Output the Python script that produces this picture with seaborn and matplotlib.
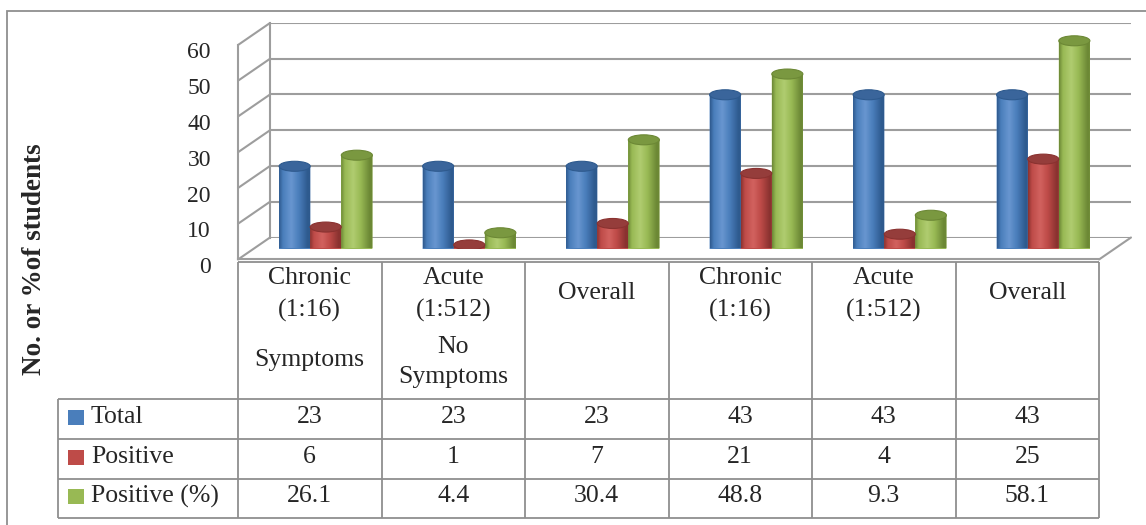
import numpy as np
import pandas as pd
import matplotlib
matplotlib.use("Agg")
import matplotlib.pyplot as plt
import seaborn as sns
from matplotlib.patches import Ellipse, Rectangle, Polygon, ConnectionPatch
from matplotlib.colors import LinearSegmentedColormap

# ---- data ---------------------------------------------------------------
header_main = [["Chronic", "(1:16)"], ["Acute", "(1:512)"], ["Overall"],
               ["Chronic", "(1:16)"], ["Acute", "(1:512)"], ["Overall"]]
header_note = [["Symptoms"], ["No", "Symptoms"], [], [], [], []]
series_names = ["Total", "Positive", "Positive (%)"]
total = [23, 23, 23, 43, 43, 43]
positive = [6, 1, 7, 21, 4, 25]
positive_pct = [26.1, 4.4, 30.4, 48.8, 9.3, 58.1]
y_ticks = [0, 10, 20, 30, 40, 50, 60]
y_label = "No. or %of students"

# ---- style --------------------------------------------------------------
sns.set_style("white")
plt.rcParams["font.family"] = ["Liberation Serif", "DejaVu Serif"]

W, H = 1146, 525
GRID = "#9d9d9d"
LINE = "#8f8f8f"
FS_TICK = 17
FS_TAB = 18.5

body = {"Total": "#4A7EBB", "Positive": "#BE4B48", "Positive (%)": "#98B954"}
dark = {"Total": "#2E5A8E", "Positive": "#8A3230", "Positive (%)": "#6C8835"}
light = {"Total": "#6896D0", "Positive": "#D2625F", "Positive (%)": "#B0CC70"}
top_col = {"Total": "#3A659B", "Positive": "#953D3B", "Positive (%)": "#7A9840"}

fig = plt.figure(figsize=(W / 100, H / 100), dpi=100)
fig.patch.set_facecolor("white")


def px_axes(left, top, width, height, z=0):
    a = fig.add_axes([left / W, 1 - (top + height) / H, width / W, height / H], zorder=z)
    a.patch.set_alpha(0)
    return a


PLANE_W, PLANE_H = 861, 214.5
DX, DY = 16, 11          # depth offset between front / middle / back planes
MID_L, MID_T = 254, 34

ax_back = px_axes(MID_L + DX, MID_T - DY, PLANE_W, PLANE_H, 0)
ax_front = px_axes(MID_L - DX, MID_T + DY, PLANE_W, PLANE_H, 1)
ax_lbl = px_axes(MID_L - DX, MID_T + DY + 5.5, PLANE_W, PLANE_H, 1)
ax_mid = px_axes(MID_L, MID_T, PLANE_W, PLANE_H, 3)
ax_tab = px_axes(MID_L - DX, 262, PLANE_W, 256, 2)

for a in (ax_back, ax_front, ax_lbl, ax_mid, ax_tab):
    a.set_xlim(-0.5, 5.5)
    a.set_xticks([])
    for s in a.spines.values():
        s.set_visible(False)
for a in (ax_back, ax_front, ax_lbl, ax_mid):
    a.set_ylim(0, 60)

# back wall with gridlines
ax_back.set_yticks(y_ticks)
ax_back.tick_params(axis="y", length=0, labelleft=False)
ax_back.grid(axis="y", color=GRID, lw=1.5)
ax_back.spines["left"].set_visible(True)
ax_back.spines["left"].set_color(GRID)
ax_back.spines["left"].set_linewidth(1.5)

# front edges
ax_front.set_yticks([])
ax_front.spines["left"].set_visible(True)
ax_front.spines["bottom"].set_visible(True)
for s in ("left", "bottom"):
    ax_front.spines[s].set_color(GRID)
    ax_front.spines[s].set_linewidth(1.5)

# side wall and floor diagonals
for v in y_ticks:
    fig.add_artist(ConnectionPatch(xyA=(-0.5, v), coordsA=ax_front.transData,
                                   xyB=(-0.5, v), coordsB=ax_back.transData,
                                   color=GRID, lw=1.5))
fig.add_artist(ConnectionPatch(xyA=(5.5, 0), coordsA=ax_front.transData,
                               xyB=(5.5, 0), coordsB=ax_back.transData,
                               color=GRID, lw=1.5))

# value axis labels
ax_lbl.set_yticks(y_ticks)
ax_lbl.set_yticklabels([str(t) for t in y_ticks], fontsize=FS_TICK)
ax_lbl.tick_params(axis="y", length=0, pad=19.5)

# ---- cylinders ----------------------------------------------------------
df = pd.DataFrame({
    "col": list(range(6)) * 3,
    "series": np.repeat(series_names, 6),
    "value": total + positive + positive_pct,
})
sns.barplot(data=df, x="col", y="value", hue="series", hue_order=series_names,
            palette=[body[s] for s in series_names], width=0.65, errorbar=None,
            saturation=1, legend=False, ax=ax_mid)
ax_mid.set_xlabel("")
ax_mid.set_ylabel("")
ax_mid.set_yticks([])
ax_mid.set_xticks([])

eh = 10 * 60 / PLANE_H   # ellipse height in data units
grad = np.linspace(0, 1, 128).reshape(1, -1)
for name, cont in zip(series_names, ax_mid.containers):
    cmap = LinearSegmentedColormap.from_list(
        name, [(0, dark[name]), (0.12, body[name]), (0.38, light[name]),
               (0.62, body[name]), (0.9, dark[name]), (1, dark[name])])
    for bar in cont:
        bar.set_linewidth(0)
        x0, w, h = bar.get_x(), bar.get_width(), bar.get_height()
        cx = x0 + w / 2
        t = np.linspace(np.pi, 2 * np.pi, 48)
        outline = [(x0, h)] + [(cx + w / 2 * np.cos(a), eh / 2 * np.sin(a)) for a in t] + [(x0 + w, h)]
        clip = Polygon(outline, closed=True, transform=ax_mid.transData,
                       facecolor=body[name], edgecolor="none", zorder=2)
        ax_mid.add_patch(clip)
        im = ax_mid.imshow(grad, extent=(x0, x0 + w, -eh / 2, h), aspect="auto",
                           cmap=cmap, interpolation="bilinear", zorder=2.1)
        im.set_clip_path(clip)
        ax_mid.add_patch(Ellipse((cx, h), w, eh, facecolor=top_col[name],
                                 edgecolor=dark[name], lw=0.8, zorder=3))
ax_mid.set_xlim(-0.5, 5.5)
ax_mid.set_ylim(0, 60)

# ---- data table ---------------------------------------------------------
ax_tab.set_ylim(256, 0)
ax_tab.set_yticks([])
HDR, ROW_Y = 137, [137, 177, 217, 256]
lab_left = -0.5 - 180 / (PLANE_W / 6)
kw = dict(colors=LINE, lw=1.3, clip_on=False)
ax_tab.hlines(0, -0.5, 5.5, **kw)
ax_tab.hlines(ROW_Y, lab_left, 5.5, **kw)
ax_tab.vlines(np.arange(-0.5, 6, 1), 0, 256, **kw)
ax_tab.vlines(lab_left, HDR, 256, **kw)

for i in range(6):
    lines = header_main[i]
    ys = [16, 48] if len(lines) == 2 else [31]
    for txt, yy in zip(lines, ys):
        ax_tab.text(i, yy, txt, ha="center", va="center", fontsize=FS_TAB)
    notes = header_note[i]
    ys = [98] if len(notes) == 1 else [85, 115]
    for txt, yy in zip(notes, ys):
        ax_tab.text(i, yy, txt, ha="center", va="center", fontsize=FS_TAB)

cells = [[str(v) for v in total], [str(v) for v in positive],
         [f"{v:.1f}" for v in positive_pct]]
col_w = PLANE_W / 6
for r, name in enumerate(series_names):
    yc = (ROW_Y[r] + ROW_Y[r + 1]) / 2 - 2
    ax_tab.add_patch(Rectangle((lab_left + 10 / col_w, yc - 7.5), 16 / col_w, 15,
                               facecolor=body[name], edgecolor="none", clip_on=False))
    ax_tab.text(lab_left + 33 / col_w, yc, name, ha="left", va="center", fontsize=FS_TAB)
    for i in range(6):
        ax_tab.text(i, yc, cells[r][i], ha="center", va="center", fontsize=FS_TAB)

# axis title and outer frame
fig.text(35 / W, 1 - 259 / H, y_label, rotation=90, ha="center", va="center",
         fontsize=19.5, fontweight="bold")
fig.add_artist(Rectangle((7 / W, -0.05), 1.2, (H - 11) / H + 0.05,
                         transform=fig.transFigure, fill=False,
                         edgecolor=LINE, lw=1.3))

fig.savefig("out.png", dpi=100)
